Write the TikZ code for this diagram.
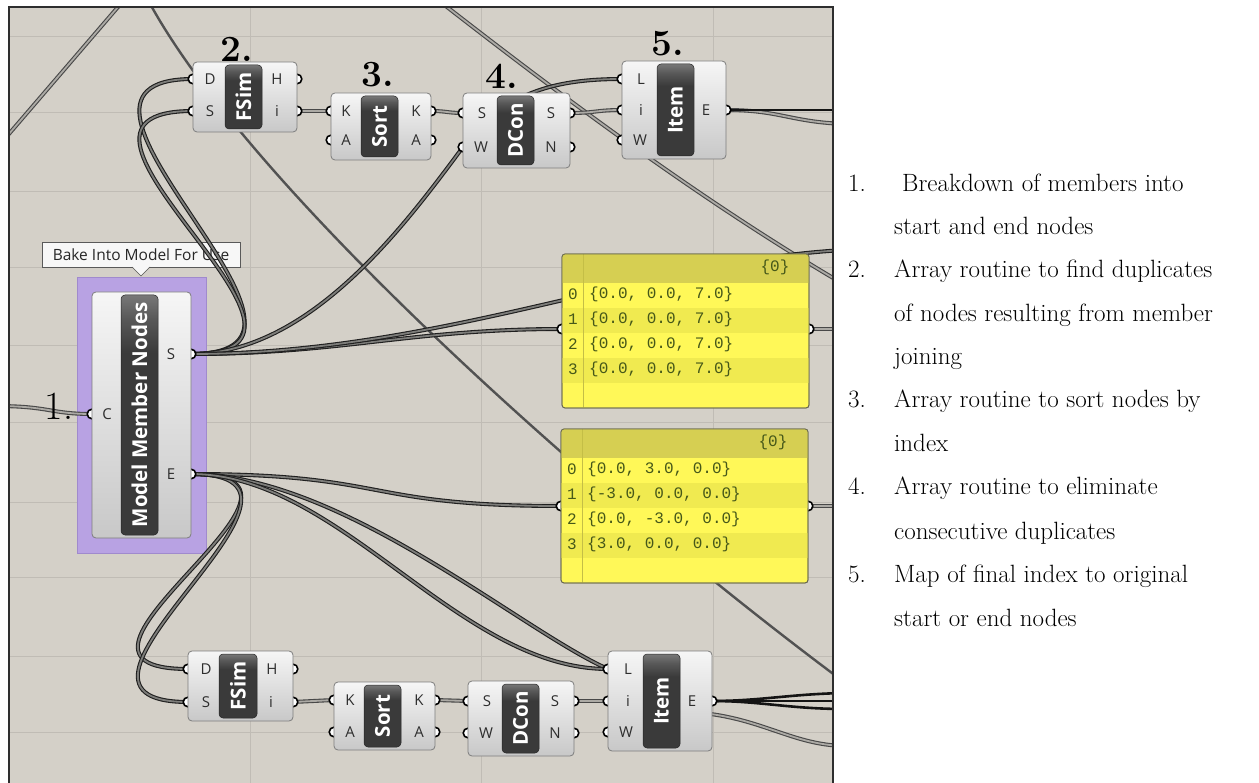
\documentclass[tikz,border=0pt]{standalone}
\usepackage{fontspec}
\newfontfamily\ghfont{Open Sans}
\newfontfamily\pnfont{Liberation Mono}
\definecolor{canvasbg}{RGB}{212,208,200}
\definecolor{gridc}{RGB}{192,188,181}
\definecolor{wiredark}{RGB}{72,72,72}
\definecolor{wirelight}{RGB}{172,170,165}
\definecolor{wiresel}{RGB}{125,125,122}
\definecolor{compdraw}{RGB}{125,125,125}
\definecolor{comptop}{RGB}{246,246,246}
\definecolor{compbot}{RGB}{200,200,200}
\definecolor{labdark}{RGB}{58,58,58}
\definecolor{labmid}{RGB}{88,88,88}
\definecolor{labhi}{RGB}{120,120,120}
\definecolor{groupfill}{RGB}{184,162,227}
\definecolor{groupdraw}{RGB}{160,138,205}
\definecolor{pyellow}{RGB}{255,248,88}
\definecolor{pyellow2}{RGB}{240,234,80}
\definecolor{pheader}{RGB}{214,207,82}
\definecolor{pline}{RGB}{196,190,70}
\definecolor{pborder}{RGB}{105,105,80}
\definecolor{ptext}{RGB}{70,88,25}
\definecolor{porttext}{RGB}{45,45,45}
\definecolor{tipfill}{RGB}{247,247,247}
\pgfdeclareverticalshading{darklab}{100bp}{color(0bp)=(labdark); color(63bp)=(labdark); color(70bp)=(labmid); color(75bp)=(labhi); color(100bp)=(labhi)}
\newcommand\ghcomp[8]{%
  \node[compbody, minimum width={(#4)-(#2)}, minimum height={(#5)-(#3)}] (#1) at ({((#2)+(#4))/2},{((#3)+(#5))/2}) {};
  \node[complab, minimum width={(#7)-(#6)}, minimum height={(#5)-(#3)-6}] (#1lab) at ({((#6)+(#7))/2},{((#3)+(#5))/2}) {};
  \node[labtext] (#1txt) at (#1lab) {#8};
}
\begin{document}
\begin{tikzpicture}[x=1pt,y=-1pt,
  compbody/.style={draw=compdraw, line width=0.8pt, rounded corners=4pt, top color=comptop, bottom color=compbot, inner sep=0pt, outer sep=0pt},
  complab/.style={rounded corners=4pt, shade, shading=darklab, draw=black!85, line width=0.5pt, inner sep=0pt},
  labtext/.style={rotate=90, text=white, font=\ghfont\bfseries\fontsize{20.5}{20.5}\selectfont, inner sep=0pt},
  plabel/.style={text=porttext, font=\ghfont\fontsize{15}{15}\selectfont, inner sep=0pt},
  port/.style={draw=black, fill=white, line width=1.6pt},
  wire/.style={draw=wiredark, double=wirelight, line width=1.1pt, double distance=1.8pt},
  selwire/.style={draw=black!88, double=wiresel, line width=1.1pt, double distance=1.8pt},
  blackwire/.style={draw=black!92, line width=2.6pt},
  darkline/.style={draw=black!68, line width=2.4pt},
  steplabel/.style={font=\bfseries\fontsize{37}{37}\selectfont, inner sep=0pt},
  listtext/.style={font=\fontsize{25}{25}\selectfont, anchor=base west, inner sep=0pt},
  ptxt/.style={text=ptext, font=\pnfont\fontsize{16}{16}\selectfont, inner sep=0pt},
  panelbox/.style={draw=pborder, line width=0.8pt, rounded corners=3pt, fill=pyellow, inner sep=0pt}
]
\useasboundingbox (0,0) rectangle (1259,783);
\fill[white] (0,0) rectangle (1259,783);

% ---------- port coordinates ----------
\coordinate (f1D) at (193,79);  \coordinate (f1S) at (193,111);
\coordinate (f1H) at (297,79);  \coordinate (f1i) at (297,111);
\coordinate (s1Kin) at (331,111); \coordinate (s1Ain) at (331,140);
\coordinate (s1Kout) at (431,111); \coordinate (s1Aout) at (431,140);
\coordinate (d1Sin) at (463,113); \coordinate (d1W) at (463,147);
\coordinate (d1Sout) at (570,113); \coordinate (d1N) at (570,147);
\coordinate (i1L) at (622,79); \coordinate (i1i) at (622,110); \coordinate (i1W) at (622,140);
\coordinate (i1E) at (726,110);
\coordinate (mC) at (92,414); \coordinate (mS) at (191,354); \coordinate (mE) at (191,474);
\coordinate (f2D) at (188,669);  \coordinate (f2S) at (188,702);
\coordinate (f2H) at (293,669);  \coordinate (f2i) at (293,702);
\coordinate (s2Kin) at (334,700); \coordinate (s2Ain) at (334,732);
\coordinate (s2Kout) at (435,700); \coordinate (s2Aout) at (435,732);
\coordinate (d2Sin) at (468,701); \coordinate (d2W) at (468,733);
\coordinate (d2Sout) at (574,701); \coordinate (d2N) at (574,733);
\coordinate (i2L) at (608,669); \coordinate (i2i) at (608,701); \coordinate (i2W) at (608,732);
\coordinate (i2E) at (712,701);
\coordinate (i2hid) at (690,712);
\coordinate (p1in) at (562,329); \coordinate (p1out) at (809,329);
\coordinate (p2in) at (561,506); \coordinate (p2out) at (808,506);
% free ends outside the canvas
\coordinate (wA1) at (-10,156); \coordinate (wA2) at (124,0);
\coordinate (wB1) at (148,0);   \coordinate (wB2) at (840,679);
\coordinate (wD1) at (438,0);   \coordinate (wD2) at (845,285);
\coordinate (wS6) at (845,250);
\coordinate (wC) at (-5,406);
\coordinate (wE1) at (845,110); \coordinate (wE2) at (845,124);
\coordinate (wP1) at (845,329); \coordinate (wP2) at (845,506);
\coordinate (wF1) at (845,693); \coordinate (wF2) at (845,701);
\coordinate (wF3) at (845,709); \coordinate (wF4) at (845,746);

\begin{scope}
\clip (9,7) rectangle (833,790);
\fill[canvasbg] (0,0) rectangle (840,790);
\foreach \gy in {37,113,192,268,346,423,502,577,656,732}
  \draw[gridc, line width=1pt] (0,\gy) -- (840,\gy);
\foreach \gx in {250,481,713}
  \draw[gridc, line width=1pt] (\gx,0) -- (\gx,790);

% tooltip
\node[draw=black!65, fill=tipfill, minimum width=198pt, minimum height=25pt, inner sep=0pt,
      font=\ghfont\fontsize{15.5}{15.5}\selectfont, text=black!85] (tip) at (141,254.5) {Bake Into Model For Use};
\fill[tipfill] (132,266.4) -- (141,275.5) -- (150,266.4) -- cycle;
\draw[black!65, line width=0.4pt] (132,267) -- (141,276) -- (150,267);

% group
\node[fill=groupfill, draw=groupdraw, line width=0.6pt, minimum width=129pt, minimum height=276pt, inner sep=0pt] (grp) at (141.5,415) {};

% background wires
\draw[wire] (wA1) -- (wA2);
\draw[darkline] (wB1) .. controls (250,190) and (600,500) .. (wB2);
\draw[wire] (wD1) .. controls (560,95) and (700,200) .. (wD2);

% wires from S
\draw[selwire] (mS) .. controls +(185,0) and +(-185,0) .. (f1D);
\draw[selwire] (mS) .. controls +(185,0) and +(-185,0) .. (f1S);
\draw[selwire] (mS) .. controls (310,354) and (405,225) .. (d1W) .. controls (505,90) and (560,79) .. (i1L);
\draw[selwire] (mS) .. controls +(150,0) and +(-150,0) .. (p1in);
\draw[selwire] (mS) .. controls (441,354) and (650,260) .. (wS6);
% wires from E
\draw[selwire] (mE) .. controls +(175,0) and +(-175,0) .. (f2D);
\draw[selwire] (mE) .. controls +(175,0) and +(-175,0) .. (f2S);
\draw[selwire] (mE) .. controls +(200,0) and +(-200,0) .. (p2in);
\draw[selwire] (mE) .. controls (341,474) and (520,630) .. (i2L);
\draw[selwire] (mE) .. controls +(150,0) and +(-150,0) .. (i2L);
% input C
\draw[wire] (wC) .. controls (50,406) and (50,414) .. (mC);
% top chain
\draw[wire] (f1i) -- (s1Kin);
\draw[wire] (s1Kout) .. controls +(16,0) and +(-16,0) .. (d1Sin);
\draw[wire] (d1Sout) .. controls +(26,0) and +(-26,0) .. (i1i);
\draw[wire] (i1E) .. controls (780,110) and (790,122) .. (wE2);
\draw[blackwire] (i1E) -- (wE1);
% panel outputs
\draw[wire] (p1out) -- (wP1);
\draw[wire] (p2out) -- (wP2);
% bottom chain
\draw[wire] (f2i) -- (s2Kin);
\draw[wire] (s2Kout) .. controls +(16,0) and +(-16,0) .. (d2Sin);
\draw[wire] (d2Sout) .. controls +(17,0) and +(-17,0) .. (i2i);
\draw[wire] (i2hid) .. controls (760,716) and (790,745) .. (wF4);
\draw[blackwire] (i2E) .. controls (760,701) and (790,694) .. (wF1);
\draw[blackwire] (i2E) -- (wF2);
\draw[blackwire] (i2E) .. controls (760,701) and (790,709) .. (wF3);

% ports
\foreach \p in {f1D,f1S,f1H,f1i,s1Kin,s1Ain,s1Kout,s1Aout,d1Sin,d1W,d1Sout,d1N,i1L,i1i,i1W,i1E,
                mC,mS,mE,f2D,f2S,f2H,f2i,s2Kin,s2Ain,s2Kout,s2Aout,d2Sin,d2W,d2Sout,d2N,i2L,i2i,i2W,i2E,
                p1in,p1out,p2in,p2out}
  \draw[port] (\p) circle[radius=4.8pt];

% components
\ghcomp{fsim1}{193}{62}{297}{132}{225}{262}{FSim}
\ghcomp{sort1}{331}{93}{431}{160}{361}{398}{Sort}
\ghcomp{dcon1}{463}{93}{570}{168}{497}{534}{DCon}
\ghcomp{item1}{622}{61}{726}{159}{657}{694}{Item}
\ghcomp{mmn}{92}{292}{191}{538}{121}{158}{Model Member Nodes}
\ghcomp{fsim2}{188}{651}{293}{721}{219}{257}{FSim}
\ghcomp{sort2}{334}{682}{435}{750}{364}{401}{Sort}
\ghcomp{dcon2}{468}{681}{574}{756}{502}{539}{DCon}
\ghcomp{item2}{608}{651}{712}{751}{643}{680}{Item}

% port letters
\node[plabel] at (210,79) {D}; \node[plabel] at (210,111) {S};
\node[plabel] at (277,79) {H}; \node[plabel] at (277,111) {i};
\node[plabel] at (346,111) {K}; \node[plabel] at (346,140) {A};
\node[plabel] at (416,111) {K}; \node[plabel] at (416,140) {A};
\node[plabel] at (482,113) {S}; \node[plabel] at (481,147) {W};
\node[plabel] at (551,113) {S}; \node[plabel] at (551,147) {N};
\node[plabel] at (641,79) {L}; \node[plabel] at (641,110) {i}; \node[plabel] at (640,140) {W};
\node[plabel] at (706,110) {E};
\node[plabel] at (107,414) {C}; \node[plabel] at (171,354) {S}; \node[plabel] at (171,474) {E};
\node[plabel] at (206,669) {D}; \node[plabel] at (206,702) {S};
\node[plabel] at (272,669) {H}; \node[plabel] at (271,702) {i};
\node[plabel] at (350,700) {K}; \node[plabel] at (350,732) {A};
\node[plabel] at (419,700) {K}; \node[plabel] at (419,732) {A};
\node[plabel] at (487,701) {S}; \node[plabel] at (486,733) {W};
\node[plabel] at (555,701) {S}; \node[plabel] at (555,733) {N};
\node[plabel] at (628,669) {L}; \node[plabel] at (628,701) {i}; \node[plabel] at (626,732) {W};
\node[plabel] at (692,701) {E};

% panel 1
\node[panelbox, minimum width=247pt, minimum height=154pt] (pan1) at (685.5,331) {};
\begin{scope}
  \clip[rounded corners=3pt] (562,254) rectangle (809,408);
  \fill[pheader] (562,254) rectangle (809,283);
  \fill[pyellow2] (562,308) rectangle (809,333);
  \fill[pyellow2] (562,358) rectangle (809,383);
  \draw[pline, line width=0.8pt] (583,254) -- (583,408);
\end{scope}
\draw[pborder, line width=0.8pt, rounded corners=3pt] (562,254) rectangle (809,408);
\node[ptxt] at (775,267) {\{0\}};
\node[ptxt] at (573,294) {0}; \node[ptxt, anchor=west] at (589,294) {\{0.0, 0.0, 7.0\}};
\node[ptxt] at (573,319) {1}; \node[ptxt, anchor=west] at (589,319) {\{0.0, 0.0, 7.0\}};
\node[ptxt] at (573,344) {2}; \node[ptxt, anchor=west] at (589,344) {\{0.0, 0.0, 7.0\}};
\node[ptxt] at (573,369) {3}; \node[ptxt, anchor=west] at (589,369) {\{0.0, 0.0, 7.0\}};

% panel 2
\node[panelbox, minimum width=247pt, minimum height=154pt] (pan2) at (684.5,506) {};
\begin{scope}
  \clip[rounded corners=3pt] (561,429) rectangle (808,583);
  \fill[pheader] (561,429) rectangle (808,458);
  \fill[pyellow2] (561,483) rectangle (808,508);
  \fill[pyellow2] (561,533) rectangle (808,558);
  \draw[pline, line width=0.8pt] (582,429) -- (582,583);
\end{scope}
\draw[pborder, line width=0.8pt, rounded corners=3pt] (561,429) rectangle (808,583);
\node[ptxt] at (773,442) {\{0\}};
\node[ptxt] at (572,469) {0}; \node[ptxt, anchor=west] at (587,469) {\{0.0, 3.0, 0.0\}};
\node[ptxt] at (572,494) {1}; \node[ptxt, anchor=west] at (587,494) {\{-3.0, 0.0, 0.0\}};
\node[ptxt] at (572,519) {2}; \node[ptxt, anchor=west] at (587,519) {\{0.0, -3.0, 0.0\}};
\node[ptxt] at (572,544) {3}; \node[ptxt, anchor=west] at (587,544) {\{3.0, 0.0, 0.0\}};

% step labels
\node[steplabel] (n2) at (237,49) {2.};
\node[steplabel] (n3) at (378,75) {3.};
\node[steplabel] (n4) at (502,76) {4.};
\node[steplabel] (n5) at (668,44) {5.};
\node[font=\fontsize{40}{40}\selectfont, inner sep=0pt] (n1) at (59,406) {1.};
\end{scope}

% canvas border
\draw[black!82, line width=2pt] (9,790) -- (9,7) -- (833,7) -- (833,790);

% list
\node[listtext] (l1n) at (848,192) {1.};
\node[listtext] (l1a) at (902,192) {Breakdown of members into};
\node[listtext] (l1b) at (894,235) {start and end nodes};
\node[listtext] (l2n) at (848,278) {2.};
\node[listtext] (l2a) at (894,278) {Array routine to find duplicates};
\node[listtext] (l2b) at (894,322) {of nodes resulting from member};
\node[listtext] (l2c) at (894,365) {joining};
\node[listtext] (l3n) at (848,408) {3.};
\node[listtext] (l3a) at (894,408) {Array routine to sort nodes by};
\node[listtext] (l3b) at (894,452) {index};
\node[listtext] (l4n) at (848,495) {4.};
\node[listtext] (l4a) at (894,495) {Array routine to eliminate};
\node[listtext] (l4b) at (894,539) {consecutive duplicates};
\node[listtext] (l5n) at (848,582) {5.};
\node[listtext] (l5a) at (894,582) {Map of final index to original};
\node[listtext] (l5b) at (894,626) {start or end nodes};
\end{tikzpicture}
\end{document}
